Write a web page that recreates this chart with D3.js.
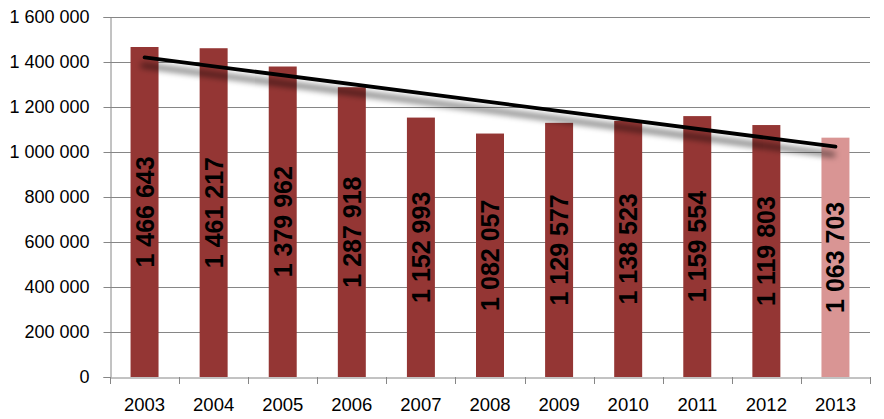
<!DOCTYPE html>
<html>
<head>
<meta charset="utf-8">
<script src="https://cdn.jsdelivr.net/npm/d3@7"></script>
<style>
  html, body { margin: 0; padding: 0; background: #ffffff; }
  svg { display: block; }
</style>
</head>
<body>
<svg id="chart" width="884" height="419"></svg>
<script>
const years = ["2003","2004","2005","2006","2007","2008","2009","2010","2011","2012","2013"];
const values = [1466643, 1461217, 1379962, 1287918, 1152993, 1082057, 1129577, 1138523, 1159554, 1119803, 1063703];
const yTicks = [0, 200000, 400000, 600000, 800000, 1000000, 1200000, 1400000, 1600000];
const highlightYears = ["2013"];

(function () {
const svg = d3.select("#chart");
const pLeft = 110, pRight = 870, pTop = 17, pBottom = 377;

const x = d3.scaleBand().domain(years).range([pLeft, pRight]).paddingInner(0.595).paddingOuter(0.2975);
const y = d3.scaleLinear().domain([0, 1600000]).range([pBottom, pTop]);

const fmt = v => d3.format(",")(v).replace(/,/g, " ");

// gridlines
svg.append("g").selectAll("line").data(yTicks.filter(d => d > 0)).join("line")
  .attr("x1", pLeft).attr("x2", pRight)
  .attr("y1", d => Math.round(y(d)) + 0.5).attr("y2", d => Math.round(y(d)) + 0.5)
  .attr("stroke", "#868686").attr("stroke-width", 1);

// y axis
const yAxis = svg.append("g").attr("transform", `translate(${pLeft + 0.5},0)`)
  .call(d3.axisLeft(y).tickValues(yTicks).tickSize(7).tickPadding(14).tickFormat(fmt));
yAxis.select(".domain").attr("stroke", "#868686");
yAxis.selectAll(".tick line").attr("stroke", "#868686");
yAxis.selectAll(".tick text").attr("fill", "#000").attr("font-family", "'Liberation Sans', Arial, sans-serif").attr("font-size", "18px");

// bars
svg.append("g").selectAll("rect").data(years).join("rect")
  .attr("x", d => x(d)).attr("width", x.bandwidth())
  .attr("y", (d, i) => y(values[i])).attr("height", (d, i) => pBottom - y(values[i]))
  .attr("fill", d => highlightYears.includes(d) ? "#d99594" : "#943634");

// x axis
const xAxis = svg.append("g").attr("transform", `translate(0,${pBottom + 0.5})`)
  .call(d3.axisBottom(x).tickSize(0).tickPadding(20));
xAxis.select(".domain").attr("stroke", "#868686");
xAxis.selectAll(".tick text").attr("fill", "#000").attr("font-family", "'Liberation Sans', Arial, sans-serif").attr("font-size", "18.5px");
// category boundary ticks
const step = x.step();
const bounds = d3.range(years.length + 1).map(i => pLeft + i * step);
svg.append("g").selectAll("line").data(bounds).join("line")
  .attr("x1", d => Math.round(d) + 0.5).attr("x2", d => Math.round(d) + 0.5)
  .attr("y1", pBottom).attr("y2", pBottom + 7)
  .attr("stroke", "#868686");

// linear trendline (least squares on the data)
const xs = values.map((v, i) => i);
const mx = d3.mean(xs), my = d3.mean(values);
const slope = d3.sum(xs, (xi, i) => (xi - mx) * (values[i] - my)) / d3.sum(xs, xi => (xi - mx) * (xi - mx));
const intercept = my - slope * mx;
const defs = svg.append("defs");
const f = defs.append("filter").attr("id", "shadow").attr("filterUnits", "userSpaceOnUse")
  .attr("x", 0).attr("y", 0).attr("width", 884).attr("height", 419);
f.append("feDropShadow").attr("dx", -2).attr("dy", 8).attr("stdDeviation", 3).attr("flood-color", "#000").attr("flood-opacity", 0.7);
const cx = i => x(years[i]) + x.bandwidth() / 2;
svg.append("line")
  .attr("x1", cx(0)).attr("y1", y(intercept))
  .attr("x2", cx(years.length - 1)).attr("y2", y(intercept + slope * (years.length - 1)))
  .attr("stroke", "#000").attr("stroke-width", 3.8).attr("stroke-linecap", "round")
  .attr("filter", "url(#shadow)");

// value labels
svg.append("g").selectAll("text").data(years).join("text")
  .attr("transform", (d, i) => `translate(${x(d) + x.bandwidth() / 2 + 9},${(y(values[i]) + pBottom) / 2}) rotate(-90)`)
  .attr("text-anchor", "middle")
  .attr("font-family", "'Liberation Sans', Arial, sans-serif")
  .attr("font-weight", "bold").attr("font-size", "25px").attr("fill", "#000")
  .text((d, i) => fmt(values[i]));
})();
</script>
</body>
</html>
